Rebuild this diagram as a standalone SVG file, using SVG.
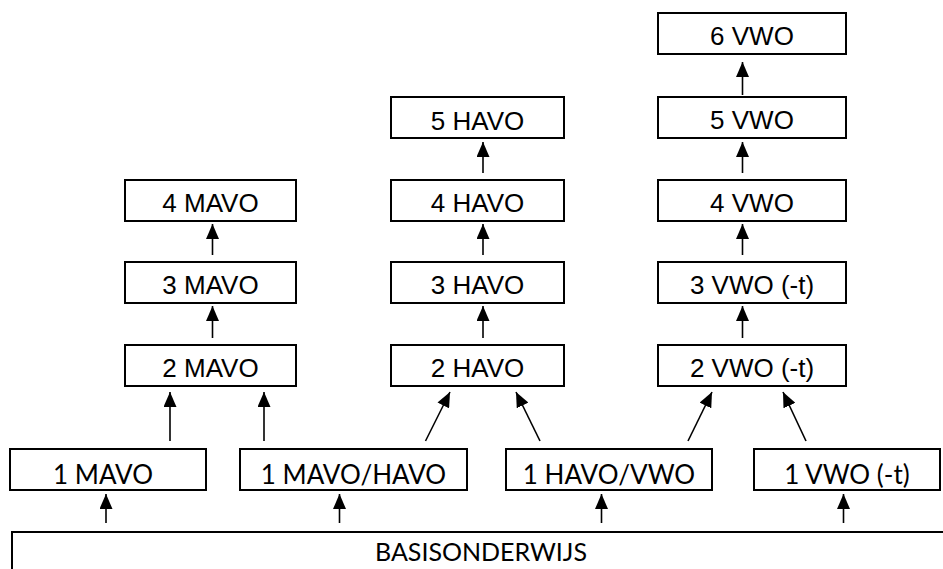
<svg xmlns="http://www.w3.org/2000/svg" width="943" height="569" viewBox="0 0 943 569">
<style>
.box{fill:#fff;stroke:#000;stroke-width:2}
.t{font-family:"Liberation Sans",Arial,sans-serif;font-size:26px;fill:#000;text-anchor:middle}
.b{font-family:Lato,"Open Sans",sans-serif;font-size:26px;fill:#000;text-anchor:middle}
.c{stroke:#000;stroke-width:1.6;fill:none;marker-end:url(#ah)}
</style>
<defs>
<marker id="ah" markerUnits="userSpaceOnUse" markerWidth="15" markerHeight="13" refX="15" refY="6.5" orient="auto" viewBox="0 0 15 13">
<path d="M0,0 L15,6.5 L0,13 z" fill="#000"/>
</marker>
</defs>
<rect width="943" height="569" fill="#fff"/>
<g id="connectors">
<line class="c" x1="212.5" y1="255" x2="212.5" y2="224"/>
<line class="c" x1="212.5" y1="338" x2="212.5" y2="306"/>
<line class="c" x1="483" y1="173" x2="483" y2="142"/>
<line class="c" x1="483" y1="255" x2="483" y2="224"/>
<line class="c" x1="483" y1="338" x2="483" y2="306"/>
<line class="c" x1="742.5" y1="95" x2="742.5" y2="62"/>
<line class="c" x1="742.5" y1="173" x2="742.5" y2="142"/>
<line class="c" x1="742.5" y1="255" x2="742.5" y2="224"/>
<line class="c" x1="742.5" y1="338" x2="742.5" y2="306"/>
<line class="c" x1="170" y1="441" x2="170" y2="392"/>
<line class="c" x1="264" y1="441" x2="264" y2="392"/>
<line class="c" x1="425.5" y1="441" x2="450" y2="392"/>
<line class="c" x1="540" y1="441" x2="516" y2="392"/>
<line class="c" x1="688" y1="441" x2="712" y2="392"/>
<line class="c" x1="806" y1="441" x2="783" y2="392"/>
<line class="c" x1="106" y1="523" x2="106" y2="494"/>
<line class="c" x1="339.5" y1="523" x2="339.5" y2="494"/>
<line class="c" x1="601.5" y1="523" x2="601.5" y2="494"/>
<line class="c" x1="843.5" y1="523" x2="843.5" y2="494"/>
</g>
<g id="mavo4"><rect class="box" x="125" y="180" width="171" height="41"/><text class="t" x="210.5" y="212">4 MAVO</text></g>
<g id="mavo3"><rect class="box" x="125" y="262" width="171" height="41"/><text class="t" x="210.5" y="294">3 MAVO</text></g>
<g id="mavo2"><rect class="box" x="125" y="345" width="171" height="41"/><text class="t" x="210.5" y="377">2 MAVO</text></g>
<g id="havo5"><rect class="box" x="391" y="97" width="173" height="41"/><text class="t" x="477.5" y="130">5 HAVO</text></g>
<g id="havo4"><rect class="box" x="391" y="180" width="173" height="41"/><text class="t" x="477.5" y="212">4 HAVO</text></g>
<g id="havo3"><rect class="box" x="391" y="262" width="173" height="41"/><text class="t" x="477.5" y="294">3 HAVO</text></g>
<g id="havo2"><rect class="box" x="391" y="345" width="173" height="41"/><text class="t" x="477.5" y="377">2 HAVO</text></g>
<g id="vwo6"><rect class="box" x="658" y="13" width="188" height="41"/><text class="t" x="752" y="45">6 VWO</text></g>
<g id="vwo5"><rect class="box" x="658" y="97" width="188" height="41"/><text class="t" x="752" y="129">5 VWO</text></g>
<g id="vwo4"><rect class="box" x="658" y="180" width="188" height="41"/><text class="t" x="752" y="212">4 VWO</text></g>
<g id="vwo3"><rect class="box" x="658" y="262" width="188" height="41"/><text class="t" x="752" y="294">3 VWO (-t)</text></g>
<g id="vwo2"><rect class="box" x="658" y="345" width="188" height="41"/><text class="t" x="752" y="377">2 VWO (-t)</text></g>
<g id="mavo1"><rect class="box" x="10" y="449" width="196" height="41"/><text class="b" x="103" y="484">1 MAVO</text></g>
<g id="mavohavo1"><rect class="box" x="240" y="449" width="227" height="41"/><text class="b" x="353.5" y="484">1 MAVO/HAVO</text></g>
<g id="havovwo1"><rect class="box" x="506" y="449" width="206" height="41"/><text class="b" x="609" y="484">1 HAVO/VWO</text></g>
<g id="vwo1"><rect class="box" x="754" y="449" width="186" height="41"/><text class="b" x="847" y="484">1 VWO (-t)</text></g>
<g id="basis"><rect class="box" x="12" y="532" width="940" height="60"/><text class="b" x="481" y="561" style="font-size:25px">BASISONDERWIJS</text></g>
</svg>
